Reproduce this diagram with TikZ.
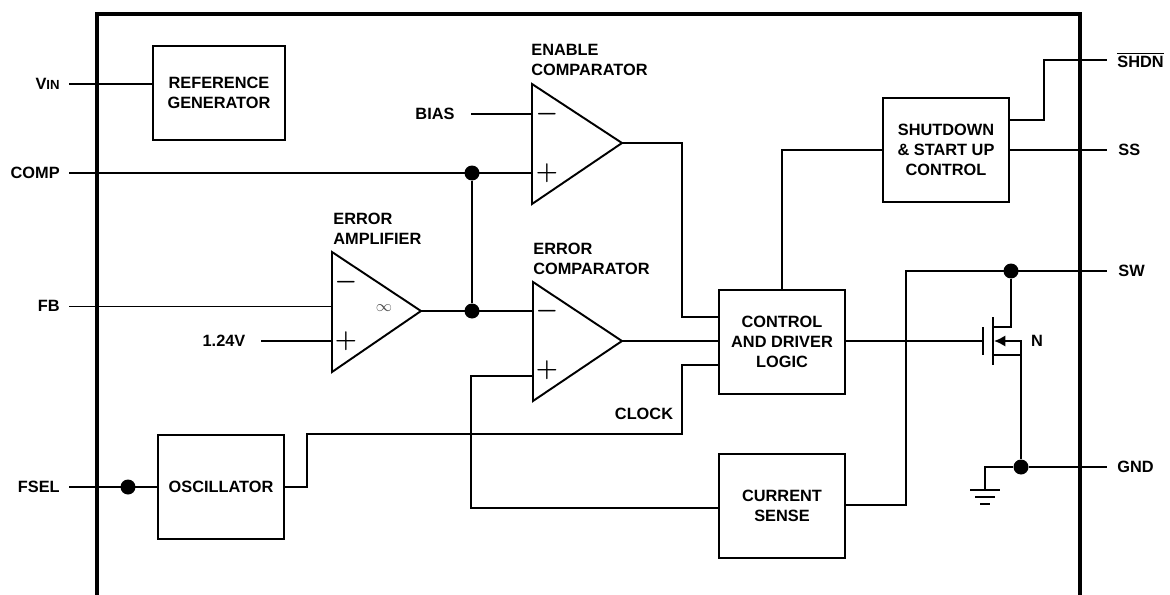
\documentclass[tikz,border=0pt]{standalone}
\usepackage{fontspec}
\setmainfont{Liberation Sans}
\usetikzlibrary{arrows.meta}
\tikzset{
  wire/.style={line width=1.1pt},
  box/.style={draw,line width=1.1pt,inner sep=0pt,align=center,minimum width=2.52cm,minimum height=2.08cm,font=\fontsize{9.3}{11.4}\selectfont\bfseries},
  txt/.style={inner sep=0pt,align=left,font=\fontsize{9.3}{11.5}\selectfont\bfseries},
  sign/.style={inner sep=0pt,font=\fontsize{14}{14}\selectfont\boldmath},
  dot/.style={circle,fill=black,inner sep=0pt,minimum size=0.3cm},
}
\begin{document}
\begin{tikzpicture}[x=0.02cm,y=-0.02cm]
\useasboundingbox(0,0)rectangle(1170,595);
\draw[line width=2.3pt](97,595)--(97,14)--(1080,14)--(1080,595);
% blocks
\node[box,minimum width=2.64cm,minimum height=1.88cm](ref) at(219,93){REFERENCE\\GENERATOR};
\node[box](shut) at(946,150){SHUTDOWN\\\& START UP\\CONTROL};
\node[box](ctrl) at(782,342){CONTROL\\AND DRIVER\\LOGIC};
\node[box](osc) at(221,487){OSCILLATOR};
\node[box](sense) at(782,506){CURRENT\\SENSE};
% amplifiers
\draw[wire](532,84)--(532,204)--(622,143)--cycle;
\draw[wire](332,252)--(332,372)--(421,311)--cycle;
\draw[wire](533,282)--(533,401)--(622,341)--cycle;
\node[sign] at(547,114){$-$};
\node[sign] at(547,173){$+$};
\node[sign] at(346,282){$-$};
\node[sign] at(346,341){$+$};
\node[sign] at(547,311){$-$};
\node[sign] at(547,370){$+$};
\node[inner sep=0pt,font=\small,text=black!70] at(384,308){$\infty$};
\coordinate(enOut) at(622,143);
\coordinate(eaOut) at(421,311);
\coordinate(ecOut) at(622,341);
% pins
\coordinate(Vin) at(69,84);
\coordinate(Comp) at(69,173);
\coordinate(FB) at(69,306);
\coordinate(Fsel) at(69,487);
\coordinate(Shdn) at(1107,60);
\coordinate(SS) at(1107,150);
\coordinate(SW) at(1107,271);
\coordinate(Gnd) at(1107,467);
\node[txt,anchor=east](VinL) at(60,84){V{\fontsize{7.5}{9}\selectfont IN}};
\node[txt,anchor=east](CompL) at(60,173){COMP};
\node[txt,anchor=east](FBL) at(60,306){FB};
\node[txt,anchor=east](FselL) at(60,487){FSEL};
\node[txt,anchor=west](ShdnL) at(1117,60){$\overline{\mbox{SHDN}}$};
\node[txt,anchor=west](SSL) at(1118,150){SS};
\node[txt,anchor=west](SWL) at(1118,271){SW};
\node[txt,anchor=west](GndL) at(1117,467){GND};
\node[txt](bias) at(435,114){BIAS};
\node[txt](volt) at(224,341){1.24V};
\node[txt,anchor=west] at(531,60){ENABLE\\COMPARATOR};
\node[txt,anchor=west] at(333,229){ERROR\\AMPLIFIER};
\node[txt,anchor=west] at(533,259){ERROR\\COMPARATOR};
\node[txt](clk) at(644,414){CLOCK};
\node[txt](nLab) at(1037,341){N};
% junctions
\node[dot](j1) at(472,173){};
\node[dot](j2) at(472,311){};
\node[dot](j3) at(128,487){};
\node[dot](j4) at(1011,271){};
\node[dot](j5) at(1021,467){};
% wiring
\draw[wire](Vin)--(Vin-|ref.west);
\draw[wire](Comp)--(532,173);
\draw[line width=0.5pt](FB)--(332,306);
\draw[wire](Fsel)--(Fsel-|osc.west);
\draw[wire](261,341)--(332,341);
\draw[wire](471,114)--(532,114);
\draw[wire](j1)--(j2);
\draw[wire](eaOut)--(533,311);
\draw[wire](enOut)-|(682,317)--(682,317-|ctrl.west);
\draw[wire](ecOut)--(ecOut-|ctrl.west);
\draw[wire](osc.east)-|(307,434)-|(682,365)--(682,365-|ctrl.west);
\draw[wire](sense.west|-0,508)-|(471,376)--(533,376);
\draw[wire](sense.east|-0,505)-|(906,271)--(SW);
\draw[wire](ctrl.north)|-(shut.west);
\draw[wire](shut.east)--(SS);
\draw[wire](shut.east|-0,120)-|(1044,60)--(Shdn);
% transistor
\draw[wire](ctrl.east|-0,341)--(983,341);
\draw[wire](983,327)--(983,355);
\draw[wire](993,317)--(993,365);
\draw[wire](j4)--(1011,327)--(993,327);
\draw[wire](993,355)--(1021,355);
\draw[wire,-{Latex[length=6.5pt,width=6.5pt]}](1021,355)--(1021,341)--(994,341);
\draw[wire](1021,355)--(j5);
\draw[wire](j5)--(Gnd);
\draw[wire](j5)-|(985,490);
\draw[wire](970,490)--(1000,490);
\draw[wire](975,497)--(995,497);
\draw[wire](980,504)--(990,504);
\end{tikzpicture}
\end{document}
